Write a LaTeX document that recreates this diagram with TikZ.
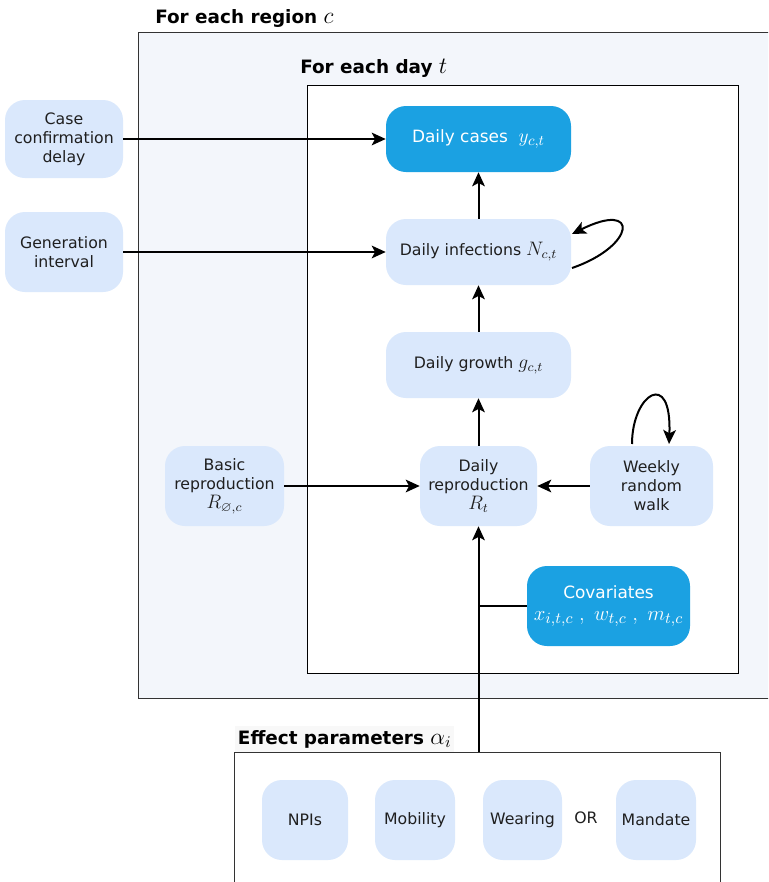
\documentclass[tikz,border=0pt]{standalone}
\usepackage{amssymb}
\usepackage{fontspec}
\setmainfont{DejaVu Sans}
\usetikzlibrary{arrows.meta,calc}
\definecolor{lightnode}{HTML}{DAE8FC}
\definecolor{bluenode}{HTML}{1BA1E2}
\definecolor{regionfill}{HTML}{F3F6FB}
\definecolor{labelfill}{HTML}{F8F8F8}
\newcommand{\mth}[2][1.22]{\scalebox{#1}{$#2$}}
\begin{document}
\begin{tikzpicture}[x=0.75pt,y=-0.75pt,
  lnode/.style={draw=none,fill=lightnode,rounded corners=15pt,align=center,inner sep=0pt,
    font=\fontsize{11.8}{14.3}\selectfont,text=black!88},
  bnode/.style={draw=none,fill=bluenode,rounded corners=15pt,align=center,inner sep=0pt,
    font=\fontsize{12.7}{16}\selectfont,text=white},
  conn/.style={line width=1.5pt},
  arr/.style={conn,-{Stealth[length=10.5pt,width=9.5pt,inset=2.5pt]}},
  ttl/.style={anchor=west,inner sep=0pt,font=\fontsize{13.8}{16}\selectfont\bfseries}]
\clip (0,0) rectangle (768,882);
\fill[white] (0,0) rectangle (768,882);
% region box
\draw[fill=regionfill,line width=0.75pt,draw=black!80] (138,32) rectangle (790,698);
\node[ttl] (trc) at (155,18) {For each region \mth{c}};
% day box
\draw[fill=white,line width=0.75pt] (307,85) rectangle (738,673);
\node[ttl] (tdt) at (300,68) {For each day \mth{t}};
% effect box
\draw[fill=white,line width=0.75pt,draw=black!80] (234,752) rectangle (720,900);
\coordinate (efftop) at (478.5,752);
\node[ttl,fill=labelfill,inner xsep=2pt,inner ysep=3pt] (tep) at (235,739) {Effect parameters \mth{\alpha_i}};
% nodes
\node[lnode,minimum width=88.5pt,minimum height=58.5pt] (ccd) at (64,139) {Case\\confirmation\\delay};
\node[lnode,minimum width=88.5pt,minimum height=60pt] (gi) at (64,252) {Generation\\interval};
\node[bnode,minimum width=138.75pt,minimum height=49.5pt] (dc) at (478.5,139) {Daily cases\ \ \mth{y_{c,t}}};
\node[lnode,minimum width=138.75pt,minimum height=49.5pt] (di) at (478.5,252) {Daily infections \mth{N_{c,t}}};
\node[lnode,minimum width=138.75pt,minimum height=49.5pt] (dg) at (478.5,365) {Daily growth \mth{g_{c,t}}};
\node[lnode,minimum width=89.25pt,minimum height=60pt] (br) at (224.5,486) {Basic\\reproduction\\\mth{R_{\varnothing,c}}};
\node[lnode,minimum width=87.75pt,minimum height=60pt] (dr) at (478.5,486) {Daily\\reproduction\\\mth{R_t}};
\node[lnode,minimum width=92.25pt,minimum height=60pt] (wrw) at (651.5,486) {Weekly\\random\\walk};
\node[bnode,minimum width=122.25pt,minimum height=60pt] (cov) at (608.5,606) {Covariates\\[1pt]\mth[1.3]{x_{i,t,c}\;,\;w_{t,c}\;,\;m_{t,c}}};
\node[lnode,minimum width=64.5pt,minimum height=60pt] (npi) at (305,820) {NPIs};
\node[lnode,minimum width=60pt,minimum height=60pt] (mob) at (415,820) {Mobility};
\node[lnode,minimum width=59.25pt,minimum height=60pt] (wear) at (522.5,820) {Wearing};
\node[inner sep=0pt,font=\fontsize{11.8}{14}\selectfont,text=black!88] (or) at (586,818) {OR};
\node[lnode,minimum width=60pt,minimum height=60pt] (mand) at (656,820) {Mandate};
% connectors
\draw[arr] (ccd.east) -- (dc.west);
\draw[arr] (gi.east) -- (di.west);
\draw[arr] (di.north) -- (dc.south);
\draw[arr] (dg.north) -- (di.south);
\draw[arr] (dr.north) -- (dg.south);
\draw[arr] (br.east) -- (dr.west);
\draw[arr] (wrw.west) -- (dr.east);
\draw[arr] (efftop) -- (dr.south);
\draw[conn] (cov.west) -- (cov.west -| dr);
% self loops
\coordinate (dis) at (572,268);
\coordinate (die) at (572,234);
\draw[arr] (dis) .. controls (636,246) and (640,200) .. (die);
\coordinate (ws) at (632,444);
\coordinate (we) at (669,444);
\draw[arr] (ws) .. controls (632,394) and (672,368) .. (we);
\end{tikzpicture}
\end{document}
